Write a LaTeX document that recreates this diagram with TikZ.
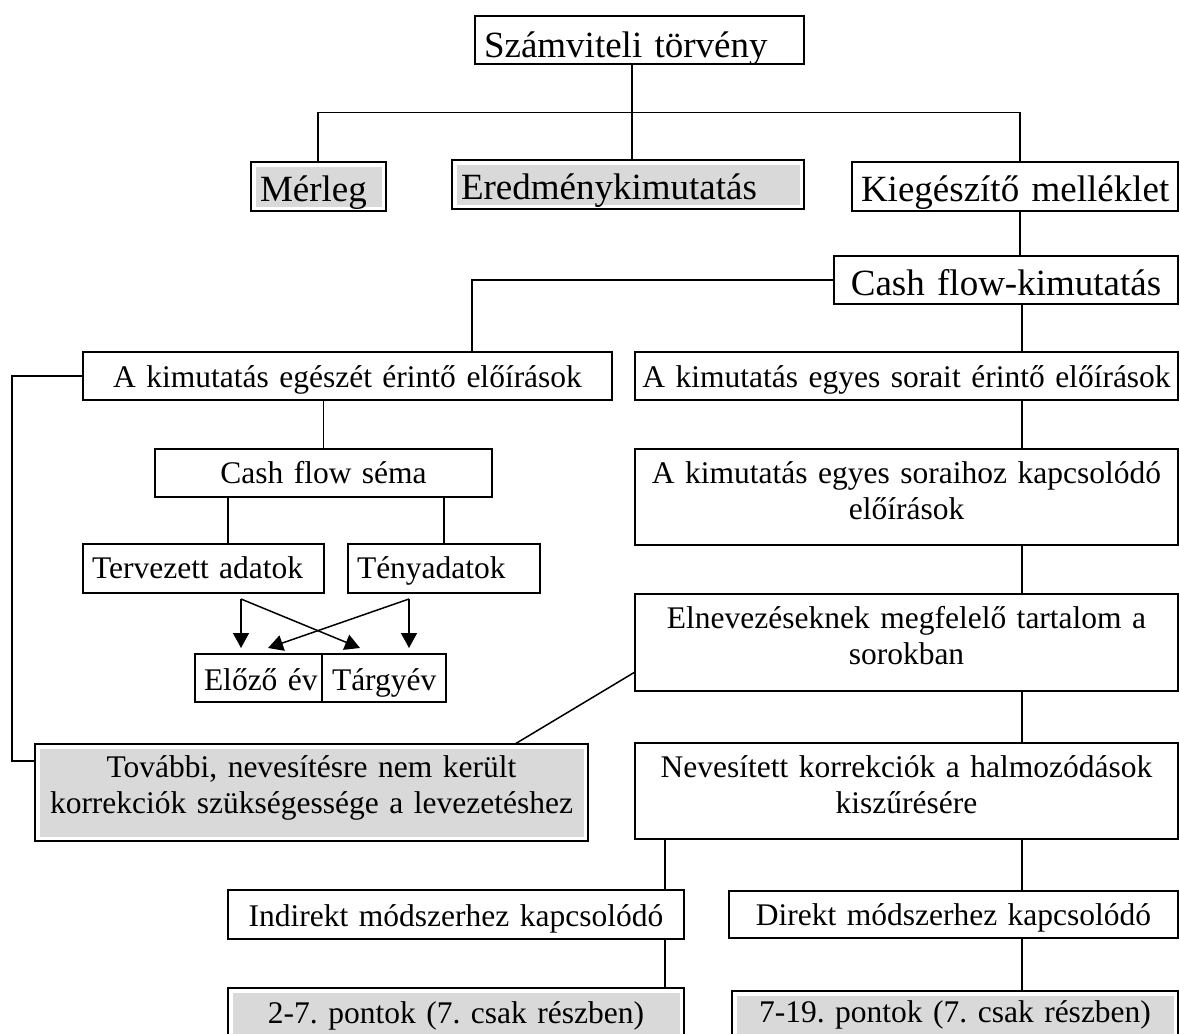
\documentclass[tikz,border=0pt]{standalone}
\usepackage{fontspec}
\setmainfont{Liberation Serif}
\usetikzlibrary{arrows.meta}
\definecolor{boxgray}{RGB}{217,217,217}
\frenchspacing
\newcommand\tierA{\fontsize{37}{42}\selectfont}
\newcommand\tierB{\fontsize{31.5}{36.7}\selectfont}
% \tbox{style}{name}{left}{top}{right}{bottom}{first baseline}{side padding}{text}
\newcommand\tbox[9]{%
  \pgfmathsetmacro\tbw{#5-#3-2*#8}%
  \pgfmathsetmacro\tbh{#7-#4}%
  \pgfmathsetmacro\tbd{#6-#7}%
  \node[cbox, #1, inner xsep=#8pt, text width=\tbw pt, text height=\tbh pt, text depth=\tbd pt] (#2) at (#3,#4) {#9};%
}
\tikzset{
  cbox/.style={draw, line width=1.7pt, anchor=north west, inner ysep=0pt, outer sep=0pt},
  greyfill/.style={path picture={\fill[boxgray]
      ([xshift=4.5pt,yshift=-4.5pt]path picture bounding box.north west) rectangle
      ([xshift=-4.5pt,yshift=4.5pt]path picture bounding box.south east);}},
  link/.style={line width=1.5pt},
  arr/.style={link, -{Triangle[width=16pt,length=15pt]}}
}
\begin{document}
\begin{tikzpicture}[x=1pt,y=-1pt]
\useasboundingbox (0,0) rectangle (1180,1033);
\fill[white] (0,0) rectangle (1180,1033);
\clip (0,0) rectangle (1180,1033);

% top level
\tbox{font=\tierA, align=left}{sz}{475}{16}{804}{64}{57}{9}{\mbox{Számviteli törvény}}
\tbox{font=\tierA, align=left, greyfill}{merleg}{251}{162}{386}{211}{201}{9}{\mbox{Mérleg}}
\tbox{font=\tierA, align=left, greyfill}{ered}{452}{160}{804}{209}{199}{9}{\mbox{Eredménykimutatás}}
\tbox{font=\tierA, align=left}{kieg}{852}{162}{1178}{211}{201}{9}{\mbox{Kiegészítő melléklet}}
\tbox{font=\tierA, align=center}{cfk}{834}{256}{1178}{304}{295}{2}{\mbox{Cash flow-kimutatás}}

% left branch
\tbox{font=\tierB, align=center}{egesz}{83}{352}{612}{400}{387}{2}{\mbox{A kimutatás egészét érintő előírások}}
\tbox{font=\tierB, align=center}{sema}{155}{449}{492}{497}{483}{2}{\mbox{Cash flow séma}}
\tbox{font=\tierB, align=left}{terv}{83}{544}{324}{593}{578}{9}{\mbox{Tervezett adatok}}
\tbox{font=\tierB, align=left}{teny}{348}{544}{540}{593}{578}{9}{\mbox{Tényadatok}}
\tbox{font=\tierB, align=left}{elozo}{195}{654}{322}{702}{690}{9}{\mbox{Előző év}}
\tbox{font=\tierB, align=left}{targy}{322}{654}{446}{702}{690}{10}{\mbox{Tárgyév}}
\tbox{font=\tierB, align=center, greyfill}{tovabbi}{35}{744}{588}{841}{777}{2}{További, nevesítésre nem került\\korrekciók szükségessége a levezetéshez}

% right branch
\tbox{font=\tierB, align=center}{sorait}{635}{352}{1178}{400}{387}{2}{\mbox{A kimutatás egyes sorait érintő előírások}}
\tbox{font=\tierB, align=center}{soraihoz}{635}{449}{1178}{545}{483}{2}{A kimutatás egyes soraihoz kapcsolódó\\előírások}
\tbox{font=\tierB, align=center}{elnev}{635}{594}{1178}{691}{628}{2}{Elnevezéseknek megfelelő tartalom a\\sorokban}
\tbox{font=\tierB, align=center}{neves}{635}{743}{1178}{839}{777}{2}{Nevesített korrekciók a halmozódások\\kiszűrésére}

% method level
\tbox{font=\tierB, align=center}{indirekt}{228}{890}{684}{939}{926}{2}{\mbox{Indirekt módszerhez kapcsolódó}}
\tbox{font=\tierB, align=center}{direkt}{729}{891}{1178}{938}{925}{2}{\mbox{Direkt módszerhez kapcsolódó}}
\tbox{font=\tierB, align=center, greyfill}{pont27}{228}{988}{684}{1060}{1023}{2}{\mbox{2-7. pontok (7. csak részben)}}
\tbox{font=\tierB, align=center, greyfill}{pont719}{732}{991}{1178}{1060}{1022}{2}{\mbox{7-19. pontok (7. csak részben)}}

% bend points of the connectors
\coordinate (busL) at (318,112.7);
\coordinate (busM) at (632,112.7);
\coordinate (busR) at (1020,112.7);
\coordinate (cfL) at (472,280);
\coordinate (colR) at (1022,0);
\coordinate (lx) at (12,0);
\coordinate (tovL) at (35,761);
\coordinate (sx1) at (228,0);
\coordinate (sx2) at (444,0);
\coordinate (ix) at (665,0);
\coordinate (t1) at (241,599);
\coordinate (t2) at (409,599);
\coordinate (h1) at (241,648);
\coordinate (h2) at (360,648);
\coordinate (h3) at (268,648);
\coordinate (h4) at (409,648);
\coordinate (eL) at (635,672);
\coordinate (tT) at (515,744);

% connectors
\draw[link] (sz.south -| busM) -- (ered.north -| busM);
\draw[link] (merleg.north -| busL) -- (busL) -- (busR) -- (kieg.north -| busR);
\draw[link] (kieg.south -| busR) -- (cfk.north -| busR);
\draw[link] (cfk.west) -- (cfL) -- (egesz.north -| cfL);
\draw[link] (cfk.south -| colR) -- (sorait.north -| colR);
\draw[link] (sorait.south -| colR) -- (soraihoz.north -| colR);
\draw[link] (soraihoz.south -| colR) -- (elnev.north -| colR);
\draw[link] (elnev.south -| colR) -- (neves.north -| colR);
\draw[link] (neves.south -| colR) -- (direkt.north -| colR);
\draw[link] (direkt.south -| colR) -- (pont719.north -| colR);
\draw[link] (egesz.south -| sema.north) -- (sema.north);
\draw[link] (sema.south -| sx1) -- (terv.north -| sx1);
\draw[link] (sema.south -| sx2) -- (teny.north -| sx2);
\draw[link] (egesz.west) -- (egesz.west -| lx) -- (lx |- tovL) -- (tovL);
\draw[link] (eL) -- (tT);
\draw[link] (neves.south -| ix) -- (indirekt.north -| ix);
\draw[link] (indirekt.south -| ix) -- (pont27.north -| ix);

% arrows towards the year boxes
\draw[arr] (t1) -- (h1);
\draw[arr] (t1) -- (h2);
\draw[arr] (t2) -- (h4);
\draw[arr] (t2) -- (h3);
\end{tikzpicture}
\end{document}
